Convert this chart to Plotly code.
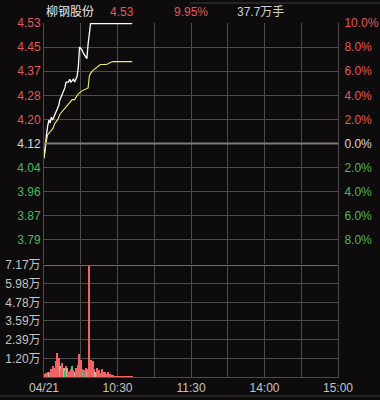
import plotly.graph_objects as go

# ---------------- data ----------------
stock_name = "柳钢股份"
prev_close = 4.12
last_price = 4.53
pct_change = "9.95%"
total_volume = "37.7万手"

# minutes after 09:30 (trading minutes) and price
price_min = [0, 1, 2, 3, 4, 5, 6, 7, 9, 10, 12, 13, 14, 16, 17, 18, 20, 21, 22,
             24, 25, 27, 28, 29, 31, 32, 35, 36, 37, 38, 72]
price_val = [4.07, 4.12, 4.15, 4.18, 4.20, 4.19, 4.21, 4.20, 4.22, 4.23, 4.25,
             4.27, 4.28, 4.30, 4.31, 4.33, 4.33, 4.34, 4.33, 4.34, 4.33, 4.35,
             4.38, 4.45, 4.44, 4.43, 4.41, 4.46, 4.51, 4.53, 4.53]

avg_min = [0, 1, 2, 3, 5, 7, 9, 11, 13, 15, 17, 19, 21, 23, 25, 28, 31, 35, 36,
           37, 38, 40, 43, 46, 51, 56, 60, 66, 72]
avg_val = [4.07, 4.11, 4.13, 4.15, 4.16, 4.17, 4.19, 4.20, 4.22, 4.23, 4.24,
           4.25, 4.26, 4.27, 4.27, 4.29, 4.30, 4.31, 4.31, 4.35, 4.36, 4.37,
           4.38, 4.39, 4.39, 4.40, 4.40, 4.40, 4.40]

# per-minute volume in 万手, direction 1 up / -1 down / 0 flat
vol_val = [0.15, 0.20, 0.25, 0.30, 0.25, 0.35, 0.50, 0.70, 0.40, 0.60,
           1.00, 1.53, 1.20, 0.70, 0.50, 0.90, 0.60, 0.40, 0.70, 0.55,
           0.30, 0.40, 0.50, 0.70, 0.45, 0.30, 0.55, 0.35, 0.80, 1.50,
           1.10, 0.50, 0.30, 0.45, 0.60, 0.35, 0.50, 7.17, 1.10, 0.60,
           1.00, 0.50, 0.35, 0.60, 0.30, 0.45, 0.25, 0.50, 0.30, 0.20,
           0.35, 0.20, 0.30, 0.15, 0.20, 0.12, 0.10, 0.08, 0.06, 0.07,
           0.05, 0.08, 0.06, 0.05, 0.07, 0.05, 0.06, 0.05, 0.07, 0.05,
           0.06, 0.05, 0.05]
vol_dir = [1, 1, 1, 1, 0, 1, 1, 1, -1, 1,
           1, 1, 1, 0, 1, 1, 0, -1, 1, 0,
           1, -1, 1, -1, 1, 0, 1, 1, 1, 1,
           1, 1, -1, 1, 1, 0, 1, 1, 1, 1,
           1, 1, 0, 1, 1, 1, 1, 1, 1, 1,
           1, 1, 1, 1, 1, 1, 1, 1, 1, 1,
           1, 1, 1, 1, 1, 1, 1, 1, 1, 1,
           1, 1, 1]

price_ticks = [3.7904, 3.8728, 3.9552, 4.0376, 4.12, 4.2024, 4.2848, 4.3672, 4.4496, 4.532]
price_labels = ["3.79", "3.87", "3.96", "4.04", "4.12", "4.20", "4.28", "4.37", "4.45", "4.53"]
pct_labels = ["8.0%", "6.0%", "4.0%", "2.0%", "0.0%", "2.0%", "4.0%", "6.0%", "8.0%", "10.0%"]
vol_ticks = [1.195, 2.39, 3.585, 4.78, 5.975, 7.17]
vol_labels = ["1.20万", "2.39万", "3.59万", "4.78万", "5.98万", "7.17万"]
time_ticks = [0, 30, 60, 90, 120, 150, 180, 210, 240]
time_labels = ["04/21", "", "10:30", "", "11:30", "", "14:00", "", "15:00"]

# ---------------- style ----------------
BG = "#0d0b0b"
GRID = "#4c4c4c"
RED = "#e0585c"
GREEN = "#4cb85c"
WHITE = "#d8d8d8"
FONT = "Liberation Sans, Arial, Noto Sans CJK SC, sans-serif"


def colored(labels, ticks):
    out = []
    for lab, t in zip(labels, ticks):
        if abs(t - prev_close) < 1e-6:
            c = WHITE
        elif t > prev_close:
            c = RED
        else:
            c = GREEN
        out.append(f'<span style="color:{c}">{lab}</span>')
    return out


dir_color = {1: "#f06468", -1: "#3cc35a", 0: "#c8b090"}
bar_colors = [dir_color[d] for d in vol_dir]

fig = go.Figure()
fig.add_trace(go.Scatter(x=price_min, y=price_val, mode="lines",
                         line=dict(color="#ffffff", width=1.3),
                         xaxis="x", yaxis="y", hoverinfo="skip"))
fig.add_trace(go.Scatter(x=avg_min, y=avg_val, mode="lines",
                         line=dict(color="#eeee6a", width=1.1),
                         xaxis="x", yaxis="y", hoverinfo="skip"))
fig.add_trace(go.Scatter(x=[0], y=[prev_close], mode="lines",
                         line=dict(width=0), xaxis="x", yaxis="y2",
                         hoverinfo="skip", showlegend=False))
fig.add_trace(go.Bar(x=list(range(len(vol_val))), y=vol_val,
                     marker=dict(color=bar_colors, line=dict(width=0)),
                     width=0.9, xaxis="x", yaxis="y3", hoverinfo="skip"))

p_lo = prev_close * 0.9
p_hi = prev_close * 1.1

fig.update_layout(
    width=380, height=400,
    margin=dict(l=44, r=42, t=23, b=23),
    paper_bgcolor=BG, plot_bgcolor=BG,
    showlegend=False, bargap=0,
    font=dict(family=FONT, size=12, color=WHITE),
    xaxis=dict(range=[0, 240], domain=[0, 1], anchor="y3", automargin=False,
               tickvals=time_ticks, ticktext=time_labels,
               showgrid=True, gridcolor=GRID, gridwidth=1,
               zeroline=False, ticks="", showline=True, linecolor=GRID,
               tickfont=dict(size=12, color="#c4c4c4")),
    yaxis=dict(domain=[0.3192, 1], range=[p_lo, p_hi], automargin=False,
               tickvals=price_ticks, ticktext=colored(price_labels, price_ticks),
               showgrid=True, gridcolor=GRID, zeroline=False, ticks="",
               showline=True, linecolor=GRID, tickfont=dict(size=12)),
    yaxis2=dict(overlaying="y", side="right", range=[p_lo, p_hi], automargin=False,
                tickvals=price_ticks, ticktext=colored(pct_labels, price_ticks),
                showgrid=False, zeroline=False, ticks="", ticklabelstandoff=3,
                showline=True, linecolor=GRID, tickfont=dict(size=12)),
    yaxis3=dict(domain=[0, 0.3164], range=[0, 7.17], automargin=False,
                tickvals=vol_ticks, ticktext=vol_labels,
                showgrid=True, gridcolor=GRID, zeroline=False, ticks="",
                showline=True, mirror=True, linecolor=GRID,
                tickfont=dict(size=12, color="#c4c4c4")),
)

# previous close line and volume top line
fig.add_shape(type="line", xref="x", yref="y", x0=0, x1=240,
              y0=prev_close, y1=prev_close, line=dict(color="#7c7c7c", width=2))
fig.add_shape(type="line", xref="x", yref="y3", x0=0, x1=240,
              y0=7.17, y1=7.17, line=dict(color="#6c6c6c", width=2))
# panel separators
fig.add_shape(type="line", xref="paper", yref="paper", x0=-44 / 294, x1=336 / 294,
              y0=-19 / 354, y1=-19 / 354, line=dict(color="#3c3c3c", width=1))
fig.add_shape(type="line", xref="paper", yref="paper", x0=146 / 294, x1=336 / 294,
              y0=374 / 354, y1=374 / 354, line=dict(color="#3c3c3c", width=1))

# header texts
header = [(stock_name, 44, "#e8e8e8"), (f"{last_price:.2f}", 108, RED),
          (pct_change, 172, RED), (total_volume, 235, "#d0d0d0")]
for txt, px, col in header:
    fig.add_annotation(text=txt, xref="paper", yref="paper",
                       x=(px - 44) / 294, y=(377 - 12) / 354,
                       xanchor="left", yanchor="middle", showarrow=False,
                       font=dict(size=12, color=col, family=FONT))

fig.write_html("out.html")
